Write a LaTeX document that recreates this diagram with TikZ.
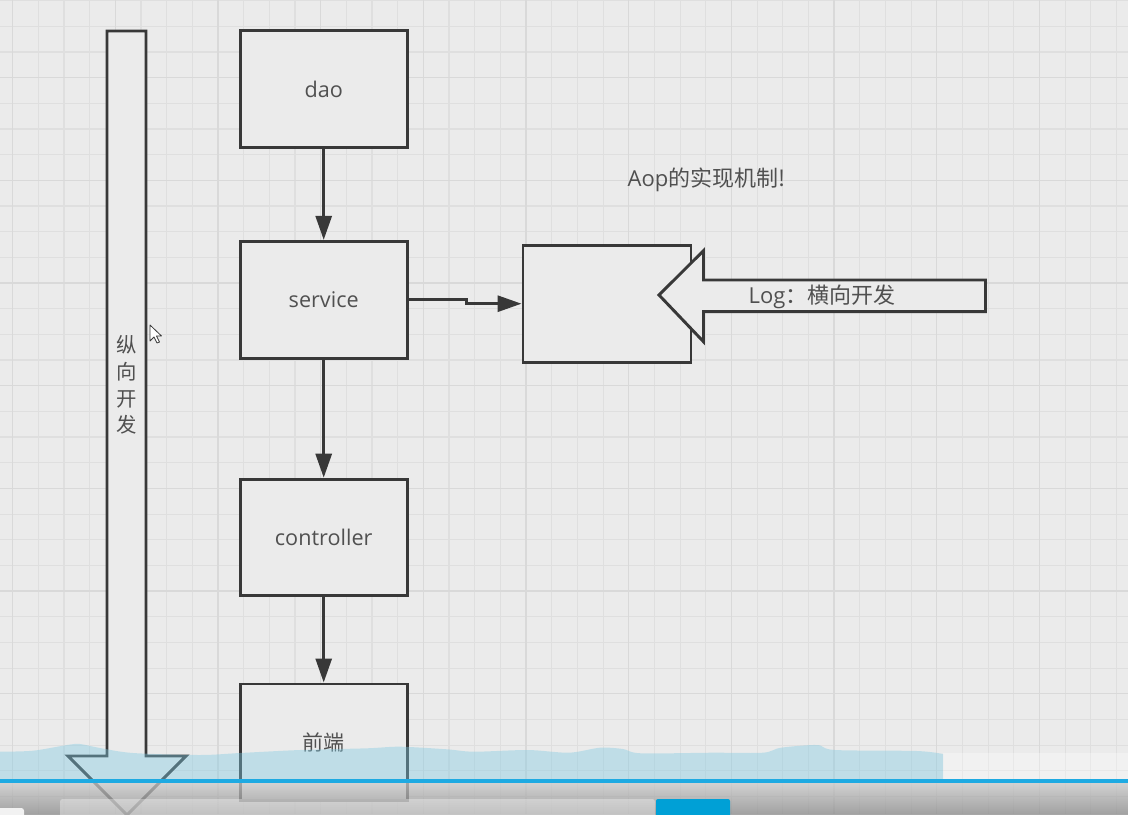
\documentclass[tikz,border=0pt]{standalone}
\usepackage{fontspec}
\setmainfont{Open Sans}
\newfontfamily\lat{Open Sans}
\newfontfamily\cjk{Noto Sans CJK SC}
\usetikzlibrary{arrows.meta}
\definecolor{bg}{HTML}{EBEBEB}
\definecolor{gminor}{HTML}{DFDFDF}
\definecolor{gmajor}{HTML}{D9D9D9}
\definecolor{lc}{HTML}{383838}
\definecolor{tc}{HTML}{505050}
\definecolor{wave}{RGB}{127,202,227}
\definecolor{prog}{RGB}{30,170,226}
\definecolor{btn}{RGB}{0,160,214}
\definecolor{bartop}{HTML}{C8C8C8}
\definecolor{barbot}{HTML}{8A8A8A}
\tikzset{
  box/.style={draw=lc, line width=2.2pt, fill=bg, minimum width=125.5pt,
    minimum height=87.5pt, inner sep=0pt, text=tc, font=\lat\fontsize{16.2}{18}\selectfont},
  conn/.style={draw=lc, line width=2.2pt, -{Triangle[length=18pt,width=12pt]}},
  bigarrow/.style={draw=lc, line width=2.2pt, fill=bg, line join=miter},
  lbl/.style={text=tc, inner sep=0pt, font=\lat\fontsize{16.5}{18}\selectfont}
}
\begin{document}
\begin{tikzpicture}[x=0.75pt,y=-0.75pt]
\useasboundingbox (0,0) rectangle (1128,814);
\clip (0,0) rectangle (1128,814);
% background grid
\fill[bg] (0,0) rectangle (1128,814);
\foreach \i in {0,...,43} \draw[gminor, line width=0.9pt] ({12.7+25.67*\i},0) -- ({12.7+25.67*\i},814);
\foreach \j in {0,...,31} \draw[gminor, line width=0.9pt] (0,{0.7+25.67*\j}) -- (1128,{0.7+25.67*\j});
\foreach \i in {0,...,10} \draw[gmajor, line width=0.9pt] ({12.7+102.67*\i},0) -- ({12.7+102.67*\i},814);
\foreach \j in {0,...,7} \draw[gmajor, line width=0.9pt] (0,{77.7+102.67*\j}) -- (1128,{77.7+102.67*\j});
% vertical development arrow
\draw[bigarrow] (107,31) -- (146,31) -- (146,756) -- (186,756) -- (127,815) -- (68,756) -- (107,756) -- cycle;
\node[lbl, font=\cjk\fontsize{15.3}{20}\selectfont, align=center] (vtxt) at (127,385) {纵\\向\\开\\发};
% layer boxes
\node[box] (dao) at (323.7,89) {dao};
\node[box] (service) at (323.7,299.7) {service};
\node[box] (controller) at (323.7,537.5) {controller};
\node[box, font=\cjk\fontsize{15.75}{18}\selectfont] (front) at (323.7,742.3) {前端};
\node[box, minimum width=126pt] (aop) at (607,303.7) {};
% connectors
\draw[conn] (dao) -- (service);
\draw[conn] (service) -- (controller);
\draw[conn] (controller) -- (front);
\draw[conn] (service.east) -- ++(58,0) |- (aop.west);
% horizontal Log arrow
\draw[bigarrow] (659,295) -- (703.5,250.7) -- (703.5,280) -- (985.5,280) -- (985.5,311.7) -- (703.5,311.7) -- (703.5,341.7) -- cycle;
\node[lbl] (log) at (822,297) {Log\cjk{：横向开发}};
\node[lbl] (title) at (706.5,180) {Aop\cjk{的实现机制}!};
% mouse cursor
\draw[lc, fill=white, line width=0.6pt, line join=round] (150,325) -- ++(0,16) -- ++(4,-4) -- ++(3,6) -- ++(2.5,-1) -- ++(-3,-6) -- ++(5,0) -- cycle;
% video player overlay
\fill[wave, opacity=0.4] (0,779) -- plot[smooth] coordinates {(0,751.7) (33,750.7) (67,745) (80,744) (100,748) (133,753) (200,755) (240,753) (300,750) (367,748.3) (400,746.7) (447,749.3) (474,751.7) (528,750) (569,752.7) (600,747.7) (623,749) (641,753.3) (713,752.7) (763,752.7) (781,747.7) (817,745) (835,750) (917,751) (943,754)} -- (943,779) -- cycle;
\fill[white, opacity=0.3] (943,753) rectangle (1128,779);
\fill[prog] (0,779.3) rectangle (1128,783.3);
\shade[top color=bartop, bottom color=barbot, opacity=0.75] (0,783.3) rectangle (1128,814);
\fill[white, opacity=0.35, rounded corners=2pt] (60,799) rectangle (655,822);
\fill[btn, rounded corners=1.5pt] (656,799) rectangle (730,822);
\fill[white!90!gray, rounded corners=2pt] (-5,808) rectangle (24,822);
\end{tikzpicture}
\end{document}
